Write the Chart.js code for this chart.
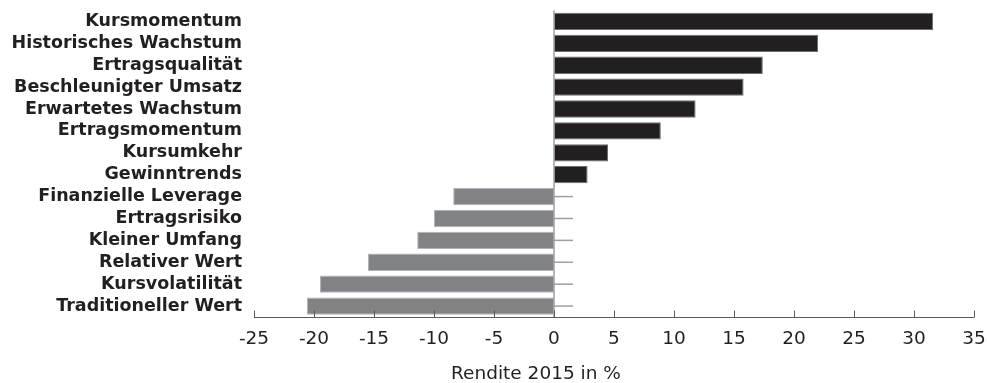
<!DOCTYPE html>
<html>
<head>
<meta charset="utf-8">
<script src="https://cdn.jsdelivr.net/npm/chart.js@4"></script>
<style>
  html, body { margin: 0; padding: 0; background: #fff; }
  #wrap { width: 987px; height: 383px; }
</style>
</head>
<body>
<div id="wrap"><canvas id="factorChart"></canvas></div>
<script>
const categories = [
  "Kursmomentum",
  "Historisches Wachstum",
  "Ertragsqualität",
  "Beschleunigter Umsatz",
  "Erwartetes Wachstum",
  "Ertragsmomentum",
  "Kursumkehr",
  "Gewinntrends",
  "Finanzielle Leverage",
  "Ertragsrisiko",
  "Kleiner Umfang",
  "Relativer Wert",
  "Kursvolatilität",
  "Traditioneller Wert"
];
const returns2015 = [31.6, 22.0, 17.4, 15.8, 11.8, 8.9, 4.5, 2.8, -8.4, -10.0, -11.4, -15.5, -19.5, -20.6];
const xTicks = [-25, -20, -15, -10, -5, 0, 5, 10, 15, 20, 25, 30, 35];
const axisTitle = "Rendite 2015 in %";

const textColor = "#231f20";
const lineGray = "#9d9fa2";

// zero line, little ticks at the zero line, x axis with inward ticks, axis title
const axisDecor = {
  id: "axisDecor",
  beforeDatasetsDraw(chart) {
    const { ctx, scales } = chart;
    const x0 = scales.x.getPixelForValue(0);
    ctx.save();
    ctx.strokeStyle = lineGray;
    ctx.lineWidth = 1.5;
    categories.forEach((c, i) => {
      const y = scales.y.getPixelForValue(i);
      ctx.beginPath();
      ctx.moveTo(x0, y);
      ctx.lineTo(x0 + 19, y);
      ctx.stroke();
    });
    ctx.restore();
  },
  afterDatasetsDraw(chart) {
    const { ctx, chartArea, scales } = chart;
    const x0 = scales.x.getPixelForValue(0);
    ctx.save();
    ctx.strokeStyle = lineGray;
    ctx.lineWidth = 1.5;
    ctx.beginPath();
    ctx.moveTo(x0, chartArea.top);
    ctx.lineTo(x0, chartArea.bottom);
    ctx.stroke();

    const yb = Math.round(chartArea.bottom) + 0.5;
    ctx.strokeStyle = "#58595b";
    ctx.lineWidth = 1;
    ctx.beginPath();
    ctx.moveTo(chartArea.left, yb);
    ctx.lineTo(chartArea.right, yb);
    xTicks.forEach(v => {
      const px = Math.round(scales.x.getPixelForValue(v)) + 0.5;
      ctx.moveTo(px, yb);
      ctx.lineTo(px, yb - 7);
    });
    ctx.stroke();

    ctx.fillStyle = textColor;
    ctx.font = "18.5px 'DejaVu Sans'";
    ctx.textAlign = "center";
    ctx.textBaseline = "middle";
    ctx.fillText(axisTitle, scales.x.getPixelForValue(-1.5), 374);
    ctx.restore();
  }
};

const ctx = document.getElementById("factorChart").getContext("2d");
new Chart(ctx, {
  type: "bar",
  data: {
    labels: categories,
    datasets: [
      {
        data: returns2015,
        backgroundColor: returns2015.map(v => (v >= 0 ? "#231f20" : "#808285")),
        borderColor: returns2015.map(v => (v >= 0 ? "#6d6e70" : "#b1b3b6")),
        borderWidth: 1,
        borderSkipped: false,
        barPercentage: 0.79,
        categoryPercentage: 1
      }
    ]
  },
  options: {
    indexAxis: "y",
    responsive: true,
    maintainAspectRatio: false,
    animation: false,
    layout: { padding: { top: 10.5, right: 13, left: 0, bottom: 0 } },
    plugins: {
      legend: { display: false },
      tooltip: { enabled: false }
    },
    scales: {
      x: {
        min: -25,
        max: 35,
        afterBuildTicks: s => { s.ticks = xTicks.map(v => ({ value: v })); },
        afterFit: s => {
          s.height = 66;
          s.paddingLeft = 0;
          s.paddingRight = 0;
        },
        grid: { display: false, drawTicks: false },
        border: { display: false },
        ticks: {
          color: textColor,
          padding: 11,
          maxRotation: 0,
          font: { family: "DejaVu Sans", size: 18.5 }
        }
      },
      y: {
        afterFit: s => {
          s.width = 254;
          s.paddingTop = 0;
          s.paddingBottom = 0;
        },
        grid: { display: false, drawTicks: false },
        border: { display: false },
        ticks: {
          color: textColor,
          padding: 12,
          autoSkip: false,
          font: { family: "DejaVu Sans", size: 17.5, weight: "bold" }
        }
      }
    }
  },
  plugins: [axisDecor]
});
</script>
</body>
</html>
